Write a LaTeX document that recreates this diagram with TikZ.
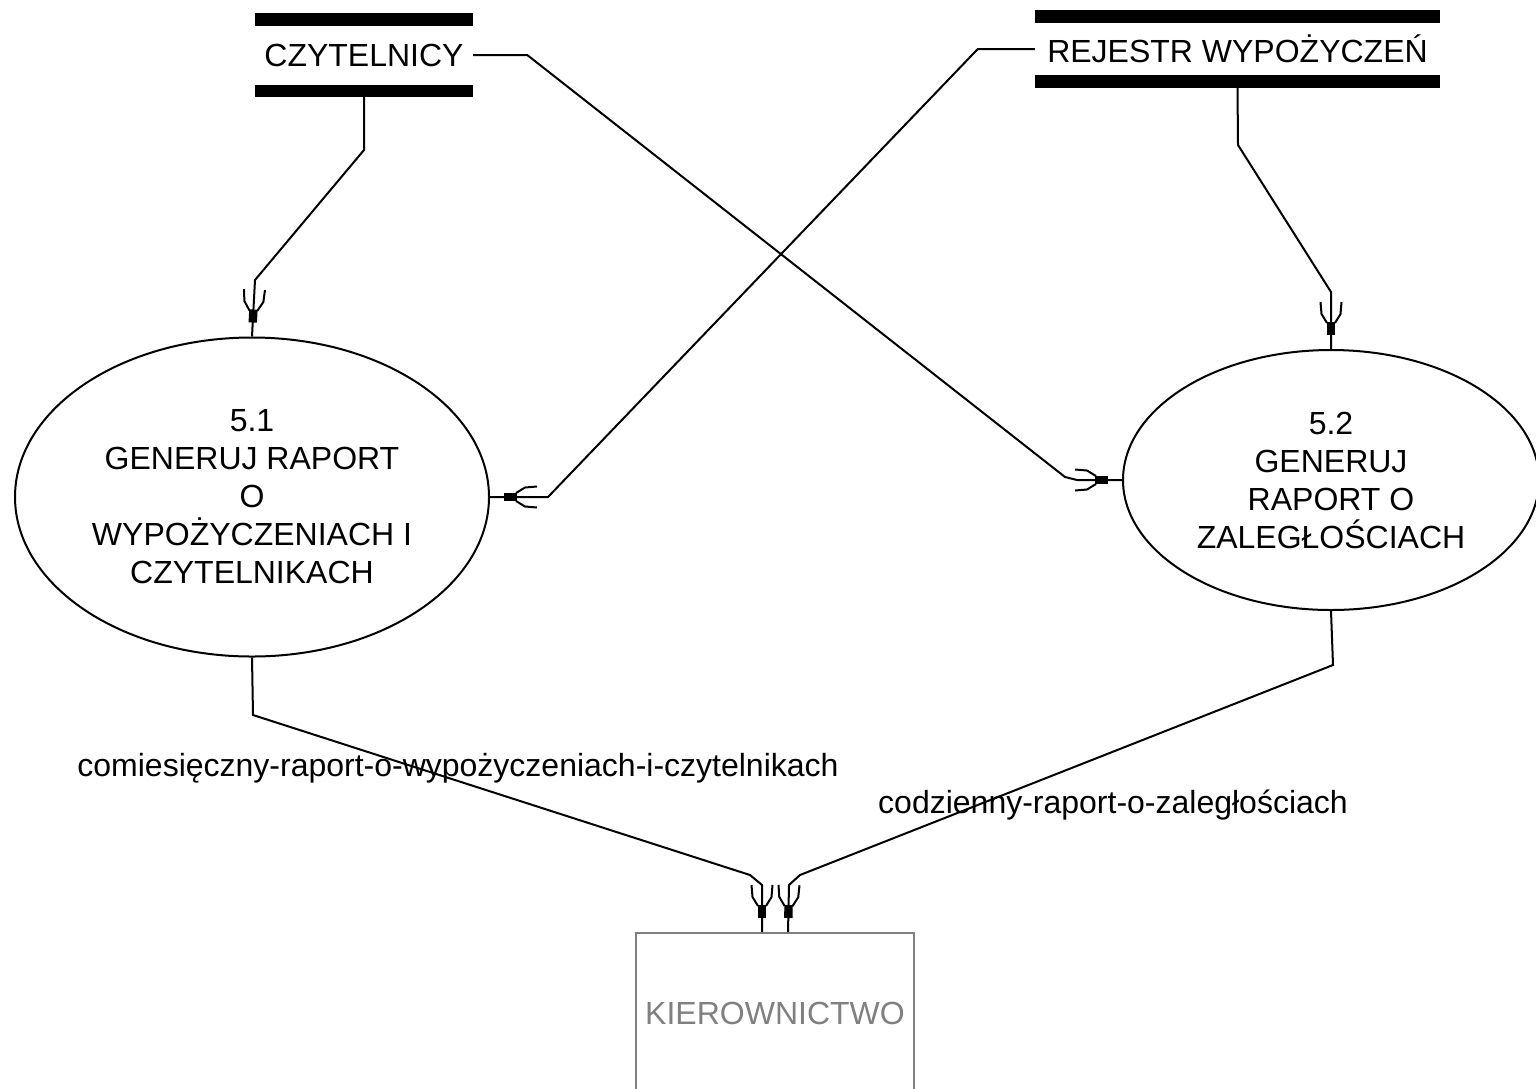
\documentclass[tikz,border=0pt]{standalone}
\usepackage{fontspec}
\setmainfont{Liberation Sans}
\usetikzlibrary{decorations.markings,shapes.geometric,calc}
\definecolor{extgray}{RGB}{128,128,128}
% arrow head of a data flow: two barbs and a solid block, drawn along the path
\newcommand\flowhead{%
  \fill (-7pt,-4.2pt) rectangle (6pt,4.2pt);
  \draw[line width=2pt] (-27pt,10.5pt) -- (-15pt,9.5pt) -- (-6pt,4pt);
  \draw[line width=2pt] (-27pt,-10.5pt) -- (-15pt,-9.5pt) -- (-6pt,-4pt);}
\begin{document}
\begin{tikzpicture}[x=1pt,y=-1pt,
  every node/.style={font=\fontsize{32}{38}\selectfont, inner sep=0pt},
  proc/.style={draw, ellipse, line width=2pt, align=center},
  store/.style={minimum width=#1},
  extent/.style={draw=extgray, text=extgray, line width=2pt},
  flow/.style={line width=2pt,
    postaction={decorate, decoration={markings,
      mark=at position -20pt with {\flowhead}}}}]
\useasboundingbox[fill=white] (0,0) rectangle (1536,1088);

% data stores
\node[store=218, minimum height=84] (czy) at (364,55) {CZYTELNICY};
\fill (czy.north west) rectangle ([yshift=-13pt]czy.north east);
\fill (czy.south west) rectangle ([yshift=12pt]czy.south east);

\node[store=405, minimum height=78] (rej) at (1237.5,49) {REJESTR WYPOŻYCZEŃ};
\fill (rej.north west) rectangle ([yshift=-13pt]rej.north east);
\fill (rej.south west) rectangle ([yshift=13pt]rej.south east);

% processes
\node[proc, minimum width=474, minimum height=319] (p51) at (252,497)
  {5.1\\GENERUJ RAPORT\\O\\WYPOŻYCZENIACH I\\CZYTELNIKACH};
\node[proc, minimum width=416, minimum height=260] (p52) at (1331,480)
  {5.2\\GENERUJ\\RAPORT O\\ZALEGŁOŚCIACH};

% external entity
\node[extent, minimum width=278, minimum height=160] (kier) at (775,1013) {KIEROWNICTWO};

% data flows
\draw[flow] (czy.south) -- (364,150) -- (255,280) -- (p51.north);
\draw[flow] (czy.east) -- ++(54,0) -- (1065,477) -- (1077,480) -- (p52.west);
\draw[flow] (rej.west) -- ++(-57,0) -- (548,497) -- (p51.east);
\draw[flow] (rej.south) -- (1238,145) -- (1331,292) -- (p52.north);
\draw[flow] (p51.south) -- (253,715) -- (750,875) -- (762,885) -- ([xshift=-13pt]kier.north);
\draw[flow] (p52.south) -- (1333,665) -- (800,875) -- (789,885) -- ([xshift=13pt]kier.north);

% flow labels
\node[anchor=base] (lab1) at (458,776) {comiesięczny-raport-o-wypożyczeniach-i-czytelnikach};
\node[anchor=base] (lab2) at (1113,813) {codzienny-raport-o-zaległościach};
\end{tikzpicture}
\end{document}
